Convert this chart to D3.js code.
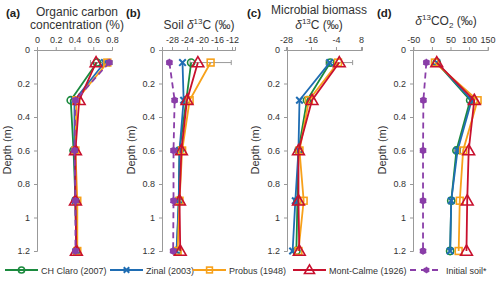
<!DOCTYPE html>
<html><head><meta charset="utf-8">
<script src="https://cdn.jsdelivr.net/npm/d3@7"></script>
<style>body{margin:0;background:#fff}svg{font-family:"Liberation Sans",Arial,sans-serif}</style>
</head><body><svg id="c" width="500" height="281"></svg>
<script>
const depths = [0.075, 0.3, 0.6, 0.9, 1.2];
const seriesNames = ["CH Claro (2007)", "Zinal (2003)", "Probus (1948)", "Mont-Calme (1926)", "Initial soil*"];
const seriesColors = ["#1b8a3e", "#1f6db3", "#f7a11a", "#c8102e", "#8a3ea8"];
const seriesMarkers = ["circle", "cross", "square", "triangle", "dot"];
const depthTicks = [0, 0.2, 0.4, 0.6, 0.8, 1, 1.2];

// panel (a) organic carbon (%)
const ocClaro = [0.64, 0.36, 0.39, 0.41, 0.42];
const ocZinal = [0.72, 0.40, 0.40, 0.41, 0.42];
const ocProbus = [0.75, 0.42, 0.41, 0.43, 0.43];
const ocMont = [0.63, 0.45, 0.41, 0.41, 0.42];
const ocInit = [0.77, 0.41, 0.40, 0.41, 0.41];
const ocTicks = [0, 0.2, 0.4, 0.6, 0.8];
// panel (b) soil d13C
const sClaro = [-22.9, -24.2, -26.0, -26.2, -26.7];
const sZinal = [-25.2, -24.9, -26.0, -26.2, -26.8];
const sProbus = [-17.7, -23.3, -25.3, -26.0, -26.5];
const sMont = [-21.1, -24.0, -25.5, -26.0, -25.8];
const sInit = [-28.7, -27.3, -27.6, -27.6, -27.7];
const sTicks = [-28, -24, -20, -16, -12];
// panel (c) microbial biomass d13C
const mClaro = [-6.7, -17.9, -22.0, -22.5, -23.0];
const mZinal = [-7.0, -21.5, -22.0, -23.5, -24.8];
const mProbus = [-3.0, -17.0, -21.5, -19.5, -22.0];
const mMont = [-2.4, -15.5, -22.0, -22.0, -21.6];
const mTicks = [-28, -16, -4, 8];
// panel (d) d13CO2
const cClaro = [13, 103, 66, 52, 49];
const cZinal = [13, 107, 69, 52, 49];
const cProbus = [8, 123, 84, 75, 72];
const cMont = [13, 114, 99, 95, 93];
const cInit = [-15, -23, -24, -24, -24];
const cTicks = [-50, 0, 50, 100, 150];

const svg = d3.select("#c");
const y = d3.scaleLinear().domain([0, 1.2]).range([50, 251]);
const axisGrey = "#999";
const textCol = "#333";

const panels = [
  {lab:"(a)", labX:6, title:["Organic carbon","concentration (%)"], titleY:[16,29], tx:77, dom:[0,0.8], rng:[37,112], ticks:ocTicks, series:[ocClaro,ocZinal,ocProbus,ocMont,ocInit], depthX:11,
    err:[{s:2,i:0,lo:0.68,hi:0.80},{s:4,i:0,lo:0.72,hi:0.80},{s:0,i:0,lo:0.57,hi:0.70}]},
  {lab:"(b)", labX:126, title:["Soil δ13C (‰)"], titleY:[29], tx:199, dom:[-30.67,-11.2], rng:[162,235], ticks:sTicks, series:[sClaro,sZinal,sProbus,sMont,sInit], depthX:135,
    err:[{s:2,i:0,lo:-23.2,hi:-12.2}]},
  {lab:"(c)", labX:247, title:["Microbial biomass","δ13C (‰)"], titleY:[14,29], tx:319, dom:[-27.5,8.5], rng:[287,362], ticks:mTicks, series:[mClaro,mZinal,mProbus,mMont,null], depthX:259,
    err:[{s:3,i:0,lo:-8.8,hi:4.0}]},
  {lab:"(d)", labX:377, title:["δ13CO2 (‰)"], titleY:[25], tx:446, dom:[-51,151], rng:[413,488], ticks:cTicks, series:[cClaro,cZinal,cProbus,cMont,cInit], depthX:386,
    err:[{s:1,i:2,lo:61,hi:77}]}
];

function drawMarker(g, type, color, cx, cy, k) {
  k = k || 1;
  if (type === "circle") g.append("circle").attr("cx",cx).attr("cy",cy).attr("r",3.6*k).attr("fill","none").attr("stroke",color).attr("stroke-width",1.6);
  else if (type === "square") g.append("rect").attr("x",cx-3.4*k).attr("y",cy-3.4*k).attr("width",6.8*k).attr("height",6.8*k).attr("fill","none").attr("stroke",color).attr("stroke-width",1.6);
  else if (type === "triangle") g.append("path").attr("d", d3.symbol().type(d3.symbolTriangle).size(60*k*k)()).attr("transform",`translate(${cx},${cy+0.8*k})`).attr("fill","none").attr("stroke",color).attr("stroke-width",1.6);
  else if (type === "cross") g.append("path").attr("d", d3.symbol().type(d3.symbolX).size(30*k*k)()).attr("transform",`translate(${cx},${cy})`).attr("fill","none").attr("stroke",color).attr("stroke-width",2);
  else if (type === "dot") { g.append("circle").attr("cx",cx).attr("cy",cy).attr("r",3.3*k).attr("fill",color);
    g.append("path").attr("d", d3.symbol().type(d3.symbolAsterisk||d3.symbolCross).size(40*k*k)()).attr("transform",`translate(${cx},${cy})`).attr("fill","none").attr("stroke",color).attr("stroke-width",1.2); }
}

function titleText(g, str, x, yy) {
  const t = g.append("text").attr("x",x).attr("y",yy).attr("text-anchor","middle").attr("font-size",12).attr("fill",textCol);
  const m = str.match(/^(.*?)δ13(CO|C)(2?)(.*)$/);
  if (!m) { t.text(str); return; }
  if (m[1]) t.append("tspan").text(m[1]);
  t.append("tspan").attr("font-style","italic").text("δ");
  t.append("tspan").attr("font-size",8).attr("dy",-5).text("13");
  t.append("tspan").attr("dy",5).text(m[2]);
  if (m[3]) { t.append("tspan").attr("font-size",8).attr("dy",3).text(m[3]); t.append("tspan").attr("dy",-3).text(m[4]); }
  else t.append("tspan").text(m[4]);
}

panels.forEach(p => {
  const g = svg.append("g");
  const x = d3.scaleLinear().domain(p.dom).range(p.rng);
  g.append("text").attr("x",p.labX).attr("y",17).attr("font-size",11.5).attr("font-weight","bold").attr("fill","#222").text(p.lab);
  p.title.forEach((t,i) => titleText(g, t, p.tx, p.titleY[i]));
  const xa = g.append("g").attr("transform","translate(0,50)").call(d3.axisTop(x).tickValues(p.ticks).tickSize(3).tickPadding(4).tickFormat(d3.format("~g")));
  const ya = g.append("g").attr("transform",`translate(${p.rng[0]},0)`).call(d3.axisLeft(y).tickValues(depthTicks).tickSize(3).tickPadding(4).tickFormat(d3.format("~g")));
  [xa,ya].forEach(a => { a.selectAll("path,line").attr("stroke",axisGrey); a.selectAll("text").attr("fill",textCol).attr("font-size",9); });
  xa.selectAll("text").text(d => d < 0 ? "-" + Math.abs(d) : d);
  g.append("text").attr("transform",`translate(${p.depthX},150) rotate(-90)`).attr("text-anchor","middle").attr("font-size",11).attr("fill",textCol).text("Depth (m)");
  p.err.forEach(e => {
    const yy = y(depths[e.i]);
    g.append("line").attr("x1",x(e.lo)).attr("x2",x(e.hi)).attr("y1",yy).attr("y2",yy).attr("stroke","#999").attr("stroke-width",1);
    [e.lo,e.hi].forEach(v => g.append("line").attr("x1",x(v)).attr("x2",x(v)).attr("y1",yy-2.5).attr("y2",yy+2.5).attr("stroke","#999").attr("stroke-width",1));
  });
  const line = d3.line().x(d=>x(d[0])).y(d=>y(d[1]));
  p.series.forEach((vals, si) => {
    if (!vals) return;
    const pts = vals.map((v,i)=>[v,depths[i]]);
    g.append("path").attr("d", line(pts)).attr("fill","none").attr("stroke",seriesColors[si]).attr("stroke-width",1.8)
      .attr("stroke-dasharray", si===4 ? "6,4" : null);
    pts.forEach(pt => drawMarker(g, seriesMarkers[si], seriesColors[si], x(pt[0]), y(pt[1])));
  });
});

const legX = [5, 110, 193, 293, 410];
const lg = svg.append("g");
seriesNames.forEach((n,i) => {
  const x0 = legX[i], yy = 270;
  lg.append("line").attr("x1",x0).attr("x2",x0+33).attr("y1",yy).attr("y2",yy).attr("stroke",seriesColors[i]).attr("stroke-width",1.8).attr("stroke-dasharray", i===4 ? "6,5" : null);
  drawMarker(lg, seriesMarkers[i], seriesColors[i], x0+16.5, yy, 0.85);
  lg.append("text").attr("x",x0+36).attr("y",yy+3.5).attr("font-size",9).attr("fill",textCol).text(n);
});
</script></body></html>
